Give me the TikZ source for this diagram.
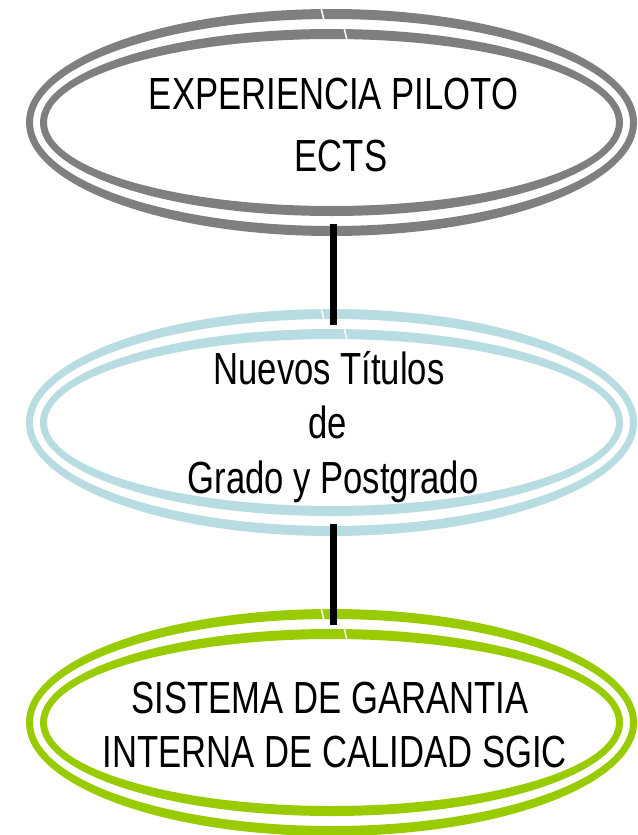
\documentclass[tikz,border=0pt]{standalone}
\usepackage{fontspec}
\newfontfamily\narrowfont[FakeStretch=0.77]{Liberation Sans}
\usetikzlibrary{shapes.geometric}
\definecolor{ringgray}{HTML}{7F7F7F}
\definecolor{ringblue}{HTML}{B7DDE2}
\definecolor{ringgreen}{HTML}{99CC00}
\tikzset{
  holder/.style={ellipse, minimum width=590pt, minimum height=196pt, inner sep=0pt, outer sep=0pt},
  txt/.style={anchor=base, inner sep=0pt, font=\narrowfont\fontsize{45}{54}\selectfont},
  conn/.style={draw=black, line width=7pt},
  pics/dblring/.style={code={
    \fill[#1, even odd rule] (0,0) ellipse [x radius=305.5pt, y radius=113.5pt]
                             (0,0) ellipse [x radius=298.5pt, y radius=103.5pt];
    \fill[#1, even odd rule] (0,0) ellipse [x radius=291.5pt, y radius=93.5pt]
                             (0,0) ellipse [x radius=284.5pt, y radius=83.5pt];
    \draw[white, line width=1.5pt] (-10.5,115) -- (-7.5,102);
    \draw[white, line width=1.5pt] (12.5,95) -- (15.5,82);
  }}
}
\begin{document}
\begin{tikzpicture}[x=1pt, y=1pt]
\useasboundingbox (0,0) rectangle (637,-835);
\fill[white] (0,0) rectangle (637,-835);

\node[holder] (e1) at (331.5,-122.5) {};
\node[holder] (e2) at (331.5,-422.5) {};
\node[holder] (e3) at (331.5,-722.5) {};

\pic at (e1.center) {dblring=ringgray};
\pic at (e2.center) {dblring=ringblue};
\pic at (e3.center) {dblring=ringgreen};

\draw[conn] ([xshift=1.5pt,yshift=-3pt]e1.south) -- ([xshift=1.5pt]e2.north);
\draw[conn] ([xshift=1.5pt,yshift=-3pt]e2.south) -- ([xshift=1.5pt]e3.north);

\node[txt] (t1a) at (333.5,-109.3) {EXPERIENCIA PILOTO};
\node[txt] (t1b) at (341,-171.7) {ECTS};

\node[txt] (t2a) at (329,-384.3) {Nuevos Títulos};
\node[txt] (t2b) at (327.5,-438.3) {de};
\node[txt] (t2c) at (333,-493.3) {Grado y Postgrado};

\node[txt] (t3a) at (330,-713) {SISTEMA DE GARANTIA};
\node[txt] (t3b) at (335,-767) {INTERNA DE CALIDAD SGIC};
\end{tikzpicture}
\end{document}
